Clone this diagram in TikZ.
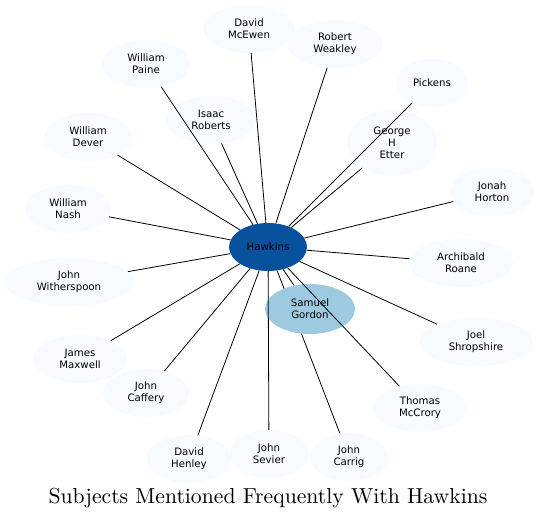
\documentclass[tikz,border=0pt]{standalone}
\usepackage{fontspec}
\newfontfamily\nodefont{DejaVu Sans}
\usetikzlibrary{shapes.geometric,backgrounds}
\definecolor{outerfill}{HTML}{F7FBFF}
\definecolor{midfill}{HTML}{9ECAE1}
\definecolor{hubfill}{HTML}{08519C}
\tikzset{
  person/.style={ellipse, fill=outerfill, draw=none, inner sep=0pt, align=center,
    font=\nodefont\fontsize{10.2}{12}\selectfont, minimum height=48pt},
  link/.style={draw=black, line width=0.8pt},
}
\begin{document}
\begin{tikzpicture}[x=1pt,y=-1pt]
\useasboundingbox (0,0) rectangle (540,520);
% nodes
\node[person, fill=hubfill, minimum width=78pt] (hawk) at (268,247) {Hawkins};
\node[person, fill=midfill, minimum width=90pt, minimum height=50pt] (gordon) at (310,309) {Samuel\\Gordon};
\node[person, minimum width=92pt] (mcewen) at (249,29) {David\\McEwen};
\node[person, minimum width=95pt] (weakley) at (335,44) {Robert\\Weakley};
\node[person, minimum width=72pt] (pickens) at (432,83) {Pickens};
\node[person, minimum width=88pt] (paine) at (146,64) {William\\Paine};
\node[person, minimum width=90pt] (roberts) at (211,120) {Isaac\\Roberts};
\node[person, minimum width=90pt, minimum height=66pt] (etter) at (392,143) {George\\H\\Etter};
\node[person, minimum width=88pt] (dever) at (88,137) {William\\Dever};
\node[person, minimum width=84pt] (horton) at (492,192) {Jonah\\Horton};
\node[person, minimum width=86pt] (nash) at (68,209) {William\\Nash};
\node[person, minimum width=104pt] (roane) at (461,263) {Archibald\\Roane};
\node[person, minimum width=130pt] (wither) at (69,282) {John\\Witherspoon};
\node[person, minimum width=114pt] (shrop) at (476,342) {Joel\\Shropshire};
\node[person, minimum width=94pt] (maxwell) at (80,359) {James\\Maxwell};
\node[person, minimum width=86pt] (caffery) at (146,393) {John\\Caffery};
\node[person, minimum width=94pt] (mccrory) at (420,408) {Thomas\\McCrory};
\node[person, minimum width=84pt] (henley) at (189,459) {David\\Henley};
\node[person, minimum width=80pt] (sevier) at (269,454) {John\\Sevier};
\node[person, minimum width=78pt] (carrig) at (349,457) {John\\Carrig};
% connectors
\foreach \n in {gordon,mcewen,weakley,pickens,paine,roberts,etter,dever,horton,nash,roane,wither,shrop,maxwell,caffery,mccrory,henley,sevier}
  \draw[link] (hawk) -- (\n);
\begin{scope}[on background layer]
  \draw[link] (hawk) -- (carrig);
\end{scope}
% title
\node (title) at (268,498) {\scalebox{2.17}{Subjects Mentioned Frequently With Hawkins}};
\end{tikzpicture}
\end{document}
